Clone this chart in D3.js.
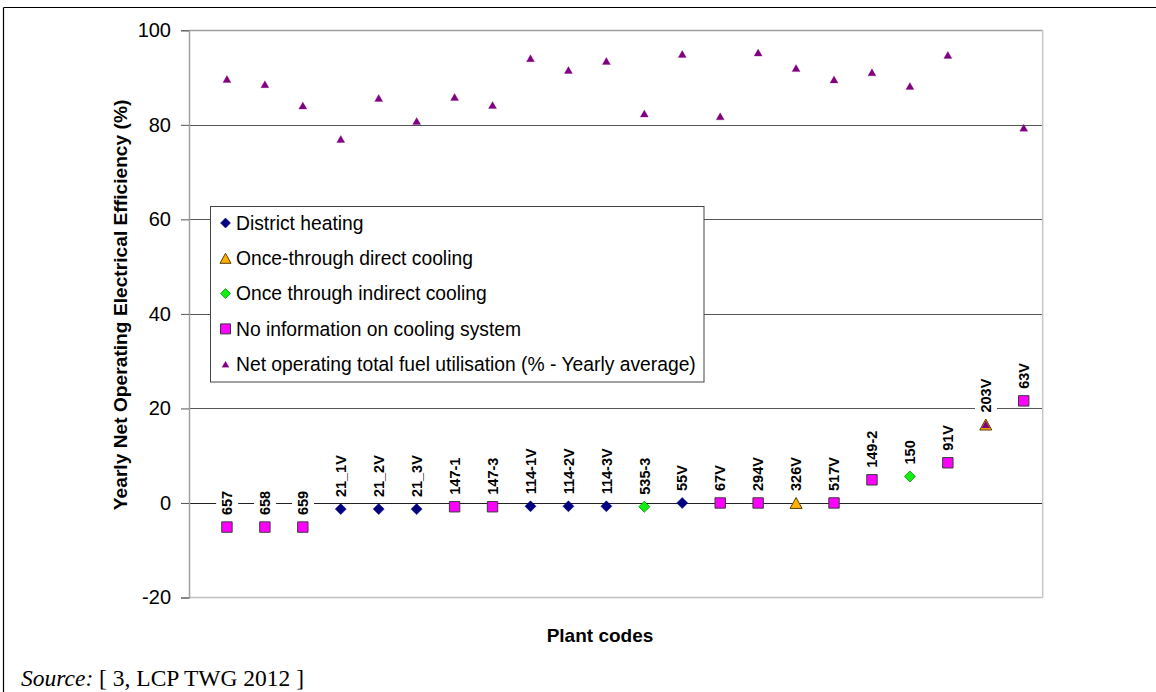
<!DOCTYPE html>
<html><head><meta charset="utf-8">
<script src="https://cdn.jsdelivr.net/npm/d3@7"></script>
<style>
html,body{margin:0;padding:0;background:#fff;overflow:hidden;}
svg{display:block;}
</style></head>
<body>
<svg id="chart" width="1156" height="692"></svg>
<script>
// ---- data ----
const categories = ["657","658","659","21_1V","21_2V","21_3V","147-1","147-3","114-1V","114-2V","114-3V","535-3","55V","67V","294V","326V","517V","149-2","150","91V","203V","63V"];
const efficiency = [-5.1,-5.1,-5.1,-1.3,-1.3,-1.3,-0.8,-0.8,-0.7,-0.7,-0.7,-0.8,0,0,0,0,0,4.9,5.6,8.5,16.6,21.6];
const coolingType = ["NI","NI","NI","DH","DH","DH","NI","NI","DH","DH","DH","OTI","DH","NI","NI","OTD","NI","NI","OTI","NI","OTD","NI"];
const fuelUtilisation = [89.7,88.6,84.1,77.0,85.7,80.8,85.9,84.2,94.1,91.6,93.5,82.4,95.0,81.8,95.3,92.0,89.6,91.1,88.2,94.8,16.6,79.4];
const seriesKeys = ["DH","OTD","OTI","NI","FUEL"];
const legendLabels = ["District heating","Once-through direct cooling","Once through indirect cooling","No information on cooling system","Net operating total fuel utilisation (% - Yearly average)"];
const yTicks = [100,80,60,40,20,0,-20];
const yTitle = "Yearly Net Operating Electrical Efficiency (%)";
const xTitle = "Plant codes";

// ---- layout ----
const svg = d3.select("#chart");
const W = 1156, H = 692;
const plot = {left:189, right:1042.7, top:30.3, bottom:597.5};
const x = d3.scaleLinear().domain([0, 22.5]).range([plot.left, plot.right]);
const y = d3.scaleLinear().domain([-20, 100]).range([plot.bottom, plot.top]);
const SANS = "'Liberation Sans', Arial, sans-serif";
const SERIF = "'Liberation Serif', 'Times New Roman', serif";

// outer frame (top and left visible)
svg.append("line").attr("x1",3.5).attr("x2",W).attr("y1",7.5).attr("y2",7.5).attr("stroke","#000").attr("stroke-width",1.2);
svg.append("line").attr("x1",3.5).attr("x2",3.5).attr("y1",7.5).attr("y2",H).attr("stroke","#000").attr("stroke-width",1.2);

// gridlines
const g = svg.append("g");
g.selectAll("line.grid").data(yTicks.filter(t => t > -20 && t < 100)).enter().append("line")
  .attr("x1", plot.left).attr("x2", plot.right)
  .attr("y1", d => Math.round(y(d)) + 0.5).attr("y2", d => Math.round(y(d)) + 0.5)
  .attr("stroke", d => d === 0 ? "#222" : "#555").attr("stroke-width", 1);

// plot border
g.append("line").attr("x1",plot.left).attr("x2",plot.right).attr("y1",30.5).attr("y2",30.5).attr("stroke","#a0a0a0").attr("stroke-width",1.5);
g.append("line").attr("x1",plot.right).attr("x2",plot.right).attr("y1",30.5).attr("y2",plot.bottom).attr("stroke","#c8c8c8").attr("stroke-width",1.5);
g.append("line").attr("x1",plot.left).attr("x2",plot.right).attr("y1",plot.bottom).attr("y2",plot.bottom).attr("stroke","#c0c0c0").attr("stroke-width",1.5);

// y axis
const yAxis = d3.axisLeft(y).tickValues(yTicks).tickSize(8).tickPadding(10).tickFormat(d => String(d));
const ya = svg.append("g").attr("transform", `translate(${plot.left},0)`).call(yAxis);
ya.select(".domain").attr("stroke","#a0a0a0").attr("stroke-width",1.5);
ya.selectAll(".tick line").attr("stroke","#555");
ya.selectAll(".tick text").attr("font-family",SANS).attr("font-size",20).attr("fill","#000");

// axis titles
svg.append("text").attr("transform",`translate(127,${(plot.top+plot.bottom)/2 - 9}) rotate(-90)`)
  .attr("text-anchor","middle").attr("font-family",SANS).attr("font-weight","bold").attr("font-size",19.2).text(yTitle);
svg.append("text").attr("x",600).attr("y",642).attr("text-anchor","middle")
  .attr("font-family",SANS).attr("font-weight","bold").attr("font-size",19).text(xTitle);

// marker shapes
function markerPath(type, cx, cy) {
  if (type === "DH" || type === "OTI") { const r = 5.5; return `M${cx},${cy-r}L${cx+r},${cy}L${cx},${cy+r}L${cx-r},${cy}Z`; }
  if (type === "NI") { const s = 5.2; return `M${cx-s},${cy-s}H${cx+s}V${cy+s}H${cx-s}Z`; }
  if (type === "OTD") { const w = 6, h = 5.5; return `M${cx},${cy-h}L${cx+w},${cy+h}L${cx-w},${cy+h}Z`; }
  const w = 4, h = 3.5; return `M${cx},${cy-h}L${cx+w},${cy+h}L${cx-w},${cy+h}Z`;
}
const style = {
  DH:  {fill:"#000080", stroke:"#000080", sw:0.5},
  OTD: {fill:"#ffb000", stroke:"#5a4000", sw:1},
  OTI: {fill:"#11ee11", stroke:"#0a8a0a", sw:0.8},
  NI:  {fill:"#ff00ff", stroke:"#3a3a3a", sw:1},
  FUEL:{fill:"#800080", stroke:"#800080", sw:0.3}
};

const pts = categories.map((c,i) => ({cat:c, i:i+1, eff:efficiency[i], type:coolingType[i], fuel:fuelUtilisation[i]}));
const mg = svg.append("g");
["DH","OTD","OTI","NI"].forEach(k => {
  mg.selectAll(null).data(pts.filter(p => p.type === k)).enter().append("path")
    .attr("d", p => markerPath(k, x(p.i), y(p.eff)))
    .attr("fill", style[k].fill).attr("stroke", style[k].stroke).attr("stroke-width", style[k].sw);
});
mg.selectAll(null).data(pts).enter().append("path")
  .attr("d", p => markerPath("FUEL", x(p.i), y(p.fuel)))
  .attr("fill", style.FUEL.fill).attr("stroke", style.FUEL.stroke).attr("stroke-width", style.FUEL.sw);

// data labels (rotated, white background)
const lg = svg.append("g");
pts.forEach(p => {
  const gg = lg.append("g").attr("transform", `translate(${x(p.i)},${y(p.eff) - 12}) rotate(-90)`);
  const bg = gg.append("rect").attr("fill","#fff");
  const t = gg.append("text").attr("x",0).attr("y",0).attr("dy","0.36em")
    .attr("font-family",SANS).attr("font-weight","bold").attr("font-size",14.5).attr("fill","#000").text(p.cat);
  const bb = t.node().getBBox();
  bg.attr("x", bb.x - 2).attr("y", bb.y - 3).attr("width", bb.width + 4).attr("height", bb.height + 6);
});

// legend
const leg = svg.append("g");
leg.append("rect").attr("x",210.5).attr("y",206.5).attr("width",493.5).attr("height",175.5)
  .attr("fill","#fff").attr("stroke","#444").attr("stroke-width",1);
seriesKeys.forEach((k, j) => {
  const cy = 223 + j * 35.3;
  const cx = 225.5;
  let d;
  if (k === "FUEL") { d = `M${cx},${cy-3}L${cx+3.5},${cy+3}L${cx-3.5},${cy+3}Z`; }
  else if (k === "NI") { d = `M${cx-5},${cy-5}H${cx+5}V${cy+5}H${cx-5}Z`; }
  else if (k === "OTD") { d = `M${cx},${cy-5}L${cx+5.5},${cy+5}L${cx-5.5},${cy+5}Z`; }
  else { const r = 5; d = `M${cx},${cy-r}L${cx+r},${cy}L${cx},${cy+r}L${cx-r},${cy}Z`; }
  leg.append("path").attr("d", d).attr("fill", style[k].fill).attr("stroke", style[k].stroke).attr("stroke-width", style[k].sw);
  leg.append("text").attr("x",236).attr("y",cy + 6.8).attr("font-family",SANS).attr("font-size",19.3).attr("fill","#000").text(legendLabels[j]);
});

// source
const src = svg.append("text").attr("x",21).attr("y",686).attr("font-family",SERIF).attr("font-size",23.5).attr("fill","#000");
src.append("tspan").attr("font-style","italic").text("Source:");
src.append("tspan").text(" [ 3, LCP TWG 2012 ]");
</script>
</body></html>
